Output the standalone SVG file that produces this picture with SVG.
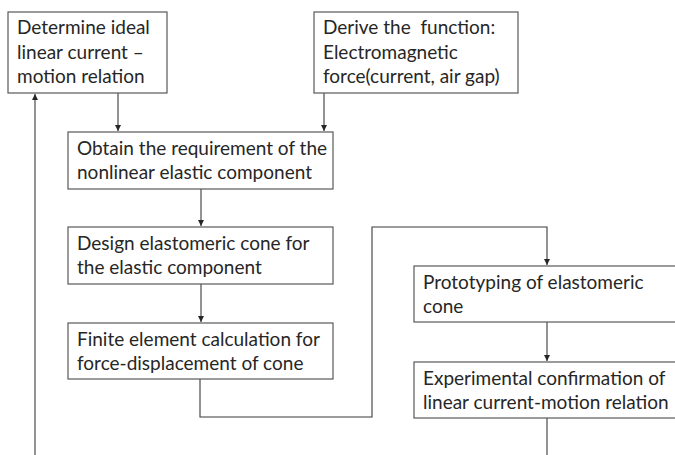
<svg xmlns="http://www.w3.org/2000/svg" width="675" height="455" viewBox="0 0 675 455">
<defs>
<marker id="ah" viewBox="0 0 6 6" refX="6" refY="3" markerWidth="6" markerHeight="6" markerUnits="userSpaceOnUse" orient="auto">
<path d="M0,0 L6,3 L0,6 Z" fill="#262626"/>
</marker>
<style>
.box{fill:#ffffff;stroke:#595959;stroke-width:1.2}
.t{font-family:Lato,"Liberation Sans",sans-serif;font-size:19px;fill:#262626}
.c{fill:none;stroke:#3a3a3a;stroke-width:1.1}
</style>
</defs>
<rect width="675" height="455" fill="#ffffff"/>
<g id="connectors">
<path class="c" d="M118,93 V131" marker-end="url(#ah)"/>
<path class="c" d="M324,93 V131" marker-end="url(#ah)"/>
<path class="c" d="M201,189 V226" marker-end="url(#ah)"/>
<path class="c" d="M201,284 V322" marker-end="url(#ah)"/>
<path class="c" d="M200,379 V417 H372 V227 H547 V265" marker-end="url(#ah)"/>
<path class="c" d="M547,322 V361" marker-end="url(#ah)"/>
<path class="c" d="M547,418 V456"/>
<path class="c" d="M35,456 V94" marker-end="url(#ah)"/>
</g>
<g id="n1">
<rect class="box" x="8" y="12" width="159" height="81"/>
<text class="t" x="17" y="34">Determine ideal</text>
<text class="t" x="17" y="58.5">linear current –</text>
<text class="t" x="17" y="83">motion relation</text>
</g>
<g id="n2">
<rect class="box" x="314" y="12" width="204" height="81"/>
<text class="t" x="323" y="34" xml:space="preserve">Derive the  function:</text>
<text class="t" x="323" y="58.5">Electromagnetic</text>
<text class="t" x="323" y="83">force(current, air gap)</text>
</g>
<g id="n3">
<rect class="box" x="68" y="132" width="265" height="57"/>
<text class="t" x="77" y="154.5">Obtain the requirement of the</text>
<text class="t" x="77" y="179">nonlinear elastic component</text>
</g>
<g id="n4">
<rect class="box" x="68" y="227" width="265" height="57"/>
<text class="t" x="77" y="249.5">Design elastomeric cone for</text>
<text class="t" x="77" y="274">the elastic component</text>
</g>
<g id="n5">
<rect class="box" x="68" y="323" width="265" height="56"/>
<text class="t" x="77" y="345.5">Finite element calculation for</text>
<text class="t" x="77" y="370">force-displacement of cone</text>
</g>
<g id="n6">
<rect class="box" x="414" y="266" width="270" height="56"/>
<text class="t" x="423" y="288.5">Prototyping of elastomeric</text>
<text class="t" x="423" y="313">cone</text>
</g>
<g id="n7">
<rect class="box" x="414" y="362" width="270" height="56"/>
<text class="t" x="423" y="384.5">Experimental confirmation of</text>
<text class="t" x="423" y="409">linear current-motion relation</text>
</g>
</svg>
